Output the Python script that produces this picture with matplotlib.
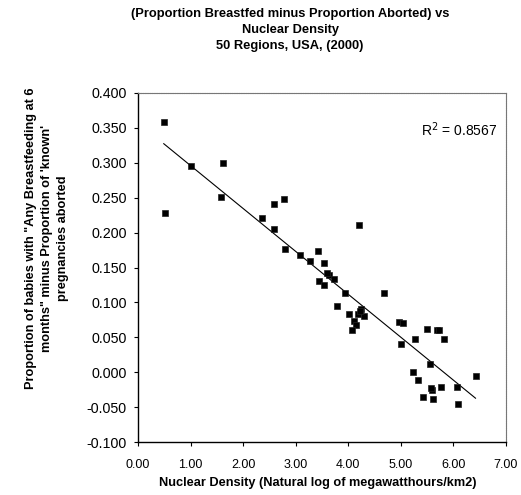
import numpy as np
import matplotlib
matplotlib.use("Agg")
import matplotlib.pyplot as plt

plt.rcParams['font.family'] = ['Liberation Sans', 'DejaVu Sans']

# nuclear density (ln MWh/km2) and breastfed-minus-aborted proportion, 50 regions
nuclear = [0.49, 0.51, 1.00, 1.61, 1.57, 2.36, 2.58, 2.78, 2.58, 2.80,
           3.08, 3.28, 3.43, 4.20, 3.53, 3.64, 3.73, 3.45, 3.53, 3.94,
           4.67, 3.79, 4.01, 4.24, 4.19, 4.30, 4.10, 4.15, 4.07, 4.97,
           5.05, 5.50, 5.68, 5.73, 5.83, 5.00, 5.27, 5.56, 5.24, 5.33,
           6.42, 6.07, 5.76, 5.60, 5.42, 5.62, 6.09, 3.60, 4.22, 5.58]
diff = [0.358, 0.228, 0.295, 0.299, 0.251, 0.221, 0.241, 0.248, 0.205, 0.177,
        0.168, 0.160, 0.174, 0.211, 0.157, 0.139, 0.134, 0.130, 0.125, 0.114,
        0.113, 0.095, 0.084, 0.090, 0.083, 0.081, 0.074, 0.067, 0.060, 0.072,
        0.071, 0.062, 0.061, 0.061, 0.048, 0.041, 0.048, 0.012, 0.001, -0.011,
        -0.006, -0.021, -0.021, -0.025, -0.036, -0.038, -0.046, 0.142, 0.087, -0.023]

xticks = np.arange(0, 7.01, 1.0)
yticks = np.arange(-0.1, 0.401, 0.05)

DPI = 100
fig = plt.figure(figsize=(521/DPI, 495/DPI), dpi=DPI)
ax = fig.add_axes([138/521, 1-442/495, (506-138)/521, (442-93)/495])

x = np.array(nuclear)
y = np.array(diff)
slope, icpt = np.polyfit(x, y, 1)
xl = np.array([x.min(), x.max()])
ax.plot(xl, slope*xl + icpt, color='black', lw=0.8)

ax.plot(x, y, 's', color='black', markersize=4.8, markeredgewidth=0.5,
        markeredgecolor='#222222')

ax.set_xlim(0, 7)
ax.set_ylim(-0.1, 0.4)
ax.set_xticks(xticks)
ax.set_yticks(yticks)
ax.set_xticklabels(['%.2f' % v for v in xticks], fontsize=9)
ax.set_yticklabels(['%.3f' % v for v in yticks], fontsize=10.3)
ax.tick_params(direction='out', length=3, width=0.8, pad=6)
ax.tick_params(axis='y', pad=5)
ax.tick_params(axis='x', pad=9)

for s in ['left', 'bottom']:
    ax.spines[s].set_linewidth(1.0)
for s in ['top', 'right']:
    ax.spines[s].set_color('#777777')
    ax.spines[s].set_linewidth(0.8)
    ax.spines[s].set_linestyle((0, (1, 0.6)))

ax.text(0.975, 0.894, r'R$^2$ = 0.8567', transform=ax.transAxes,
        ha='right', va='center', fontsize=10)

fig.text(318/521, 1-483/495,
         'Nuclear Density (Natural log of megawatthours/km2)',
         ha='center', va='center', fontsize=9.2, fontweight='bold')
fig.text(47/521, 1-238/495,
         'Proportion of babies with "Any Breastfeeding at 6\n'
         'months" minus Proportion of \'known\'\npregnancies aborted',
         rotation=90, ha='center', va='center', fontsize=9.2,
         fontweight='bold', linespacing=1.4)

fig.text(290/521, 1-30/495,
         '(Proportion Breastfed minus Proportion Aborted) vs\n'
         'Nuclear Density\n50 Regions, USA, (2000)',
         ha='center', va='center', fontsize=9.3, fontweight='bold',
         linespacing=1.4)

fig.savefig('out.png', dpi=DPI)
